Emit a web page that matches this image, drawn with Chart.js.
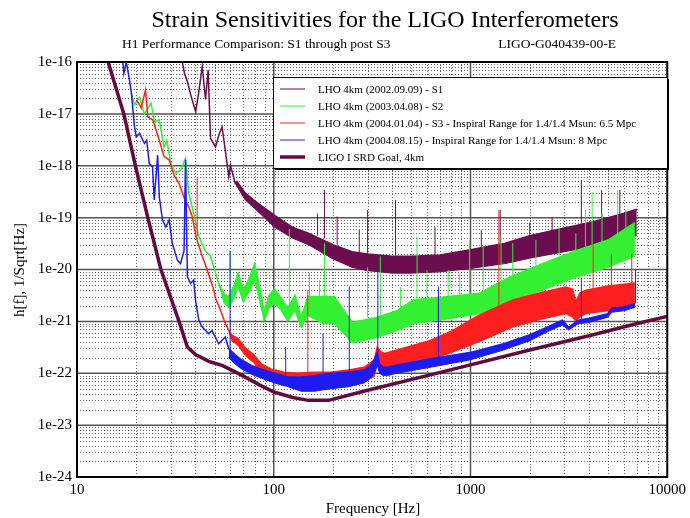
<!DOCTYPE html>
<html>
<head>
<meta charset="utf-8">
<script src="https://cdn.jsdelivr.net/npm/chart.js@4"></script>
<style>
  body { margin: 0; background: #fff; }
  #wrap { width: 690px; height: 518px; }
</style>
</head>
<body>
<div id="wrap"><canvas id="ligoChart" width="690" height="518"></canvas></div>
<script>
// legend / series
const seriesLabels = [
    'LHO 4km (2002.09.09) - S1',
    'LHO 4km (2003.04.08) - S2',
    'LHO 4km (2004.01.04) - S3 - Inspiral Range for 1.4/1.4 Msun: 6.5 Mpc',
    'LHO 4km (2004.08.15) - Inspiral Range for 1.4/1.4 Msun: 8 Mpc',
    'LIGO I SRD Goal, 4km'
];
const seriesColors = ['#6b0d4f', '#33f033', '#ff1f1f', '#1c1cf0', '#620a3e'];

const xTicks = [10, 100, 1000, 10000];
const yTicks = [1e-24, 1e-23, 1e-22, 1e-21, 1e-20, 1e-19, 1e-18, 1e-17, 1e-16];

// S1 (upper edge of the trace, lower edge of the noise band, spikes)
const s1Freq = [34.3, 35.2, 36.4, 38, 40.1, 41.5, 43.3, 45, 46.4, 47.7, 50.6, 52.9, 54.6, 56.1, 59.1, 60.2, 63.7, 65, 71.5, 80, 101, 125, 150, 200, 250, 300, 400, 500, 700, 1000, 1500, 2000, 3000, 4000, 5000, 6000, 7000];
const s1Hi = [1e-16, 6e-17, 4.2e-17, 2.2e-17, 1.1e-17, 2.5e-17, 8.1e-17, 1.9e-17, 7e-17, 3.4e-18, 2.3e-18, 4.2e-18, 5.6e-18, 2.7e-18, 6.1e-19, 1.03e-18, 4.6e-19, 5e-19, 3e-19, 2.1e-19, 1.1e-19, 6.5e-20, 5e-20, 3e-20, 2.2e-20, 2e-20, 1.8e-20, 1.8e-20, 1.9e-20, 2.4e-20, 3.2e-20, 4.5e-20, 6.3e-20, 8e-20, 1e-19, 1.2e-19, 1.45e-19];
const s1LoFreq = [63.7, 71.5, 80, 101, 125, 150, 200, 250, 300, 400, 500, 700, 1000, 1500, 2000, 3000, 4000, 5000, 6000, 7000];
const s1Lo = [4.6e-19, 2.2e-19, 1.5e-19, 6.5e-20, 4e-20, 3e-20, 1.6e-20, 1.1e-20, 9.5e-21, 8.5e-21, 8.5e-21, 9e-21, 1.05e-20, 1.3e-20, 1.65e-20, 2.2e-20, 2.7e-20, 3.3e-20, 3.9e-20, 4.5e-20];
const s1SpikeFreq = [167, 181, 210, 272, 300, 416, 660, 1135, 1415, 2000, 2600, 3660, 4640, 5740];
const s1SpikeTop = [1.2e-19, 3.4e-19, 1.05e-19, 5.8e-20, 1.4e-19, 2.2e-19, 6.6e-20, 5.8e-20, 1.4e-19, 8e-20, 1e-19, 5.3e-19, 3.4e-19, 3.4e-19];
const s1SpikeBase = [4.5e-20, 4e-20, 3e-20, 2.1e-20, 2e-20, 1.8e-20, 1.9e-20, 2.6e-20, 3e-20, 4.5e-20, 5.5e-20, 7.5e-20, 9e-20, 1.1e-19];

// S2
const s2Freq = [18.9, 19.6, 20.8, 22, 23.8, 24.7, 26.2, 27.7, 28.6, 30, 31.8, 33.6, 35.6, 37, 39.2, 41.6, 44.9, 47.7, 49.6, 52.5, 56, 59, 62.4, 66, 70, 74.4, 80, 84.6, 89.5, 94.8, 101, 109, 118, 128, 138, 149, 178, 203, 251, 336, 423, 513, 757, 1110, 1570, 2322, 3430, 5000, 6850];
const s2Hi = [2.5e-17, 1.5e-17, 2.1e-17, 1e-17, 1.6e-17, 7.1e-18, 7.6e-18, 2.3e-18, 3.1e-18, 1.1e-18, 7.1e-19, 8.3e-19, 1.4e-18, 2.9e-19, 1.2e-19, 4.3e-20, 2.3e-20, 1.8e-20, 1.1e-20, 5.4e-21, 3.4e-21, 3e-21, 4.7e-21, 8.4e-21, 4e-21, 6.3e-21, 1.3e-20, 4.7e-21, 1.6e-21, 3.2e-21, 4.2e-21, 2.8e-21, 1.8e-21, 3.2e-21, 1.2e-21, 3e-21, 3e-21, 3e-21, 9.5e-22, 1.2e-21, 1.6e-21, 2.6e-21, 3e-21, 3.5e-21, 7e-21, 1.3e-20, 2.3e-20, 3.7e-20, 8e-20];
const s2LoFreq = [52.5, 56, 59, 62.4, 66, 70, 74.4, 80, 84.6, 89.5, 94.8, 101, 109, 118, 128, 138, 149, 178, 203, 251, 336, 423, 513, 757, 1110, 1570, 2322, 3430, 5000, 6850];
const s2Lo = [5.4e-21, 2.2e-21, 1.8e-21, 2.6e-21, 4.5e-21, 2.3e-21, 3.5e-21, 6e-21, 2.5e-21, 1e-21, 1.8e-21, 2.2e-21, 1.6e-21, 1e-21, 1.6e-21, 7.5e-22, 1.3e-21, 9e-22, 9e-22, 3.8e-22, 4.9e-22, 6.6e-22, 9e-22, 1.1e-21, 1.4e-21, 2.2e-21, 4e-21, 7e-21, 1.1e-20, 1.8e-20];
const s2SpikeFreq = [60, 120, 152, 171, 181, 300, 348, 440, 535, 601, 770, 881, 990, 1160, 1430, 1640, 2150, 2820, 3430, 3840, 4150, 4660, 5600, 6160];
const s2SpikeTop = [2.3e-20, 6e-20, 8.5e-21, 6.3e-21, 3.2e-20, 1.1e-20, 1.8e-20, 4.6e-21, 4.3e-20, 9.8e-21, 9.8e-21, 8.5e-21, 3.7e-20, 2.7e-20, 4.3e-20, 3.2e-20, 3.7e-20, 6.6e-20, 5e-20, 1.4e-19, 3.1e-19, 1.2e-19, 3.4e-19, 1.4e-19];
const s2SpikeBase = [3e-21, 2e-21, 3e-21, 3e-21, 3e-21, 1.2e-21, 1.2e-21, 1.6e-21, 2.6e-21, 2.8e-21, 3e-21, 3.2e-21, 3.4e-21, 4e-21, 6e-21, 7e-21, 1.2e-20, 1.8e-20, 2.3e-20, 2.6e-20, 3e-20, 3.4e-20, 4.5e-20, 6e-20];

// S3
const s3Freq = [20, 20.8, 21.2, 22.3, 22.9, 24.3, 26.2, 27.7, 29.4, 31.1, 33, 34.9, 37, 38.5, 40.3, 43.3, 45.9, 49.6, 50.6, 53.6, 56.7, 59, 61.2, 66, 71.5, 79, 86.7, 97.6, 113, 133, 160, 194, 240, 288, 324, 336, 350, 366, 423, 624, 800, 1100, 1640, 2300, 3040, 3300, 3430, 3600, 3850, 5000, 6850];
const s3Hi = [1.85e-17, 1.5e-17, 1.3e-17, 2.9e-17, 8.8e-18, 7.6e-18, 3.1e-18, 1.5e-18, 1.3e-18, 6.6e-19, 4.6e-19, 2.5e-19, 1.6e-19, 1.05e-19, 4.3e-20, 1.8e-20, 9.8e-21, 4e-21, 2.8e-21, 1.65e-21, 9.1e-22, 6.8e-22, 5.5e-22, 4.6e-22, 3.1e-22, 2.3e-22, 1.5e-22, 1.2e-22, 1.05e-22, 1e-22, 1.05e-22, 1.05e-22, 1.15e-22, 1.3e-22, 1.8e-22, 3.2e-22, 2.6e-22, 2.4e-22, 2.8e-22, 4.3e-22, 6.5e-22, 1.3e-21, 2.6e-21, 3.6e-21, 4.6e-21, 4.2e-21, 2.4e-21, 3.5e-21, 4e-21, 4.8e-21, 5.5e-21];
const s3LoFreq = [59, 61.2, 66, 71.5, 79, 86.7, 97.6, 113, 133, 160, 194, 240, 288, 324, 336, 350, 366, 423, 624, 800, 1100, 1640, 2300, 3040, 3300, 3430, 3600, 3850, 5000, 6850];
const s3Lo = [6.8e-22, 4.2e-22, 3.4e-22, 2.2e-22, 1.6e-22, 1.05e-22, 7.5e-23, 6.2e-23, 5.5e-23, 5.3e-23, 5.1e-23, 6e-23, 7.3e-23, 8.6e-23, 1.5e-22, 1.15e-22, 1.15e-22, 1.3e-22, 1.8e-22, 2.5e-22, 4e-22, 7.7e-22, 1.1e-21, 1.4e-21, 1.2e-21, 1e-21, 1.2e-21, 1.4e-21, 1.6e-21, 1.9e-21];
const s3SpikeFreq = [40.8, 149, 687, 1394, 4200, 5200, 6600];
const s3SpikeTop = [5.8e-19, 4e-21, 3e-21, 1.4e-19, 3e-20, 2e-20, 2e-20];
const s3SpikeBase = [4.3e-20, 1e-22, 4.5e-22, 2e-21, 4e-21, 4.5e-21, 5e-21];

// post S3
const s4Freq = [17.1, 17.3, 17.8, 18.4, 18.9, 19.6, 20, 20.8, 22, 22.6, 23.3, 24.2, 24.7, 25.7, 26.2, 27.2, 28.3, 29.4, 30.5, 32.4, 33.6, 35, 35.6, 36.4, 37.8, 39.2, 40, 41.6, 43.3, 46.7, 48.5, 52.5, 56.7, 59, 63.6, 68.8, 77.4, 86.7, 101, 118, 138, 160, 194, 240, 288, 310, 324, 336, 345, 360, 378, 423, 624, 990, 1470, 1990, 2500, 2930, 3160, 3520, 4000, 4980, 5220, 6000, 6850];
const s4Hi = [1e-16, 6e-17, 1e-16, 5e-17, 2.5e-17, 5.6e-18, 3.6e-18, 4.2e-18, 2.7e-18, 3.1e-18, 1.1e-18, 9.6e-19, 2.2e-19, 1.6e-18, 2.5e-19, 9e-20, 6.6e-20, 9e-20, 3.2e-20, 1.5e-20, 1.3e-20, 2.3e-20, 1.3e-18, 7.2e-21, 5.4e-21, 6.3e-21, 2.6e-21, 1.05e-21, 7.8e-22, 5.8e-22, 6.7e-22, 3.7e-22, 5e-22, 3e-22, 2.3e-22, 1.8e-22, 1.4e-22, 1.2e-22, 1e-22, 8.5e-23, 8.5e-23, 9e-23, 1e-22, 1.05e-22, 1.15e-22, 1.4e-22, 1.8e-22, 2.6e-22, 1.5e-22, 1.3e-22, 1.3e-22, 1.45e-22, 1.9e-22, 2.5e-22, 3.7e-22, 5.5e-22, 8e-22, 1.05e-21, 7.7e-22, 1.05e-21, 1.15e-21, 1.4e-21, 1.8e-21, 1.9e-21, 2.2e-21];
const s4LoFreq = [59, 63.6, 68.8, 77.4, 86.7, 101, 118, 138, 160, 194, 240, 288, 310, 324, 336, 345, 360, 378, 423, 624, 990, 1470, 1990, 2500, 2930, 3160, 3520, 4000, 4980, 5220, 6000, 6850];
const s4Lo = [2e-22, 1.5e-22, 1.2e-22, 9.5e-23, 8e-23, 6.5e-23, 5.5e-23, 4.5e-23, 4.5e-23, 5e-23, 5.5e-23, 6.5e-23, 8e-23, 1e-22, 1.4e-22, 1e-22, 9e-23, 9e-23, 1e-22, 1.3e-22, 1.8e-22, 2.8e-22, 4.2e-22, 6.5e-22, 8.5e-22, 6.8e-22, 9e-22, 9.5e-22, 1.2e-21, 1.5e-21, 1.6e-21, 1.85e-21];
const s4SpikeFreq = [60, 115, 178, 242, 338, 687, 3660, 6900];
const s4SpikeTop = [2.3e-20, 3.2e-22, 5.9e-22, 4.7e-21, 1.1e-20, 4.7e-21, 7e-21, 9.8e-21];
const s4SpikeBase = [2.7e-22, 8.5e-23, 1e-22, 1.05e-22, 2.6e-22, 1.9e-22, 1.05e-21, 2.2e-21];

// SRD goal
const srdFreq = [14.4, 17.3, 19.8, 22.9, 26.7, 33, 36.4, 40, 46.8, 55, 69, 85, 101, 125, 150, 190, 300, 624, 1000, 2000, 4000, 6870, 10000];
const srdH = [1e-16, 1e-17, 1e-18, 1e-19, 1e-20, 1e-21, 3.2e-22, 2.3e-22, 1.7e-22, 1.4e-22, 9.1e-23, 5.9e-23, 4.3e-23, 3.4e-23, 3.0e-23, 3.0e-23, 4.7e-23, 9.3e-23, 1.45e-22, 2.8e-22, 5.3e-22, 8.9e-22, 1.25e-21];

const pts = (fs, hs) => fs.map((f, i) => ({ x: f, y: hs[i] }));
const spikes = (fs, tops, bases) => fs.flatMap((f, i) => [{ x: f, y: bases[i] }, { x: f, y: tops[i] }, { x: f, y: null }]);

const serif = '"Liberation Serif", "DejaVu Serif", serif';

const decorations = {
    id: 'decorations',
    beforeDatasetsDraw(chart) {
        const { ctx, chartArea: a, scales: { x, y } } = chart;
        ctx.save();
        const decades = [1e-24, 1e-23, 1e-22, 1e-21, 1e-20, 1e-19, 1e-18, 1e-17];
        // minor dotted lines
        ctx.strokeStyle = 'rgba(0,0,0,0.6)';
        ctx.lineWidth = 1;
        ctx.setLineDash([1, 2]);
        ctx.beginPath();
        [10, 100, 1000].forEach(d => {
            for (let m = 2; m <= 9; m++) {
                const px = Math.round(x.getPixelForValue(m * d)) + 0.5;
                ctx.moveTo(px, a.top); ctx.lineTo(px, a.bottom);
            }
        });
        decades.forEach(d => {
            for (let m = 2; m <= 9; m++) {
                const py = Math.round(y.getPixelForValue(m * d)) + 0.5;
                ctx.moveTo(a.left, py); ctx.lineTo(a.right, py);
            }
        });
        ctx.stroke();
        // major solid lines
        ctx.setLineDash([]);
        ctx.strokeStyle = '#555';
        ctx.lineWidth = 1.5;
        ctx.beginPath();
        [100, 1000].forEach(v => {
            const px = x.getPixelForValue(v);
            ctx.moveTo(px, a.top); ctx.lineTo(px, a.bottom);
        });
        yTicks.slice(1, -1).forEach(v => {
            const py = y.getPixelForValue(v);
            ctx.moveTo(a.left, py); ctx.lineTo(a.right, py);
        });
        ctx.stroke();
        ctx.restore();
    },
    afterDraw(chart) {
        const { ctx, chartArea: a } = chart;
        ctx.save();
        // frame
        ctx.strokeStyle = '#000';
        ctx.lineWidth = 2;
        ctx.strokeRect(a.left, a.top, a.right - a.left, a.bottom - a.top);

        // legend box
        const bx = 273, by = 77, bw = 394, bh = 91;
        ctx.fillStyle = '#fff';
        ctx.fillRect(bx, by, bw, bh);
        ctx.lineWidth = 1;
        ctx.strokeRect(bx + 0.5, by + 0.5, bw, bh);
        ctx.fillStyle = '#000';
        ctx.fillRect(bx + bw, by + 2, 2, bh);
        ctx.fillRect(bx + 2, by + bh, bw, 2);
        ctx.font = '11px ' + serif;
        ctx.textAlign = 'left';
        ctx.textBaseline = 'middle';
        seriesLabels.forEach((label, i) => {
            const ry = by + 12 + i * 17;
            ctx.strokeStyle = seriesColors[i];
            ctx.lineWidth = i === 4 ? 3.5 : 1;
            ctx.beginPath();
            ctx.moveTo(bx + 7, ry); ctx.lineTo(bx + 32, ry);
            ctx.stroke();
            ctx.fillStyle = '#000';
            ctx.fillText(label, bx + 45, ry + 1);
        });

        // titles
        ctx.textAlign = 'center';
        ctx.textBaseline = 'alphabetic';
        ctx.font = '24px ' + serif;
        ctx.fillText('Strain Sensitivities for the LIGO Interferometers', 385, 27);
        ctx.font = '13.5px ' + serif;
        ctx.textAlign = 'left';
        ctx.fillText('H1 Performance Comparison: S1 through post S3', 122, 48);
        ctx.textAlign = 'right';
        ctx.fillText('LIGO-G040439-00-E', 616, 48);
        ctx.textAlign = 'center';
        ctx.font = '15px ' + serif;
        ctx.fillText('Frequency [Hz]', 373, 513);
        ctx.translate(24, 270);
        ctx.rotate(-Math.PI / 2);
        ctx.fillText('h[f], 1/Sqrt[Hz]', 0, 0);
        ctx.restore();
    }
};

document.addEventListener('DOMContentLoaded', () => {
    const ctx = document.getElementById('ligoChart').getContext('2d');

    const line = (data, color, width, extra) => Object.assign({
        data, borderColor: color, backgroundColor: color, borderWidth: width,
        pointRadius: 0, tension: 0, spanGaps: false, fill: false
    }, extra || {});

    new Chart(ctx, {
        type: 'line',
        data: {
            datasets: [
                line(pts(s1Freq, s1Hi), seriesColors[0], 1.5, { label: seriesLabels[0], order: 5, fill: { target: 5, above: seriesColors[0], below: seriesColors[0] } }),
                line(pts(s2Freq, s2Hi), seriesColors[1], 1.5, { label: seriesLabels[1], order: 4, fill: { target: 6, above: seriesColors[1], below: seriesColors[1] } }),
                line(pts(s3Freq, s3Hi), seriesColors[2], 1.5, { label: seriesLabels[2], order: 3, fill: { target: 7, above: seriesColors[2], below: seriesColors[2] } }),
                line(pts(s4Freq, s4Hi), seriesColors[3], 1.5, { label: seriesLabels[3], order: 2, fill: { target: 8, above: seriesColors[3], below: seriesColors[3] } }),
                line(pts(srdFreq, srdH), seriesColors[4], 3.5, { label: seriesLabels[4], order: 0 }),
                line(pts(s1LoFreq, s1Lo), seriesColors[0], 1, { order: 5 }),
                line(pts(s2LoFreq, s2Lo), seriesColors[1], 1, { order: 4 }),
                line(pts(s3LoFreq, s3Lo), seriesColors[2], 1, { order: 3 }),
                line(pts(s4LoFreq, s4Lo), seriesColors[3], 1, { order: 2 }),
                line(spikes(s1SpikeFreq, s1SpikeTop, s1SpikeBase), seriesColors[0], 1, { order: 5 }),
                line(spikes(s2SpikeFreq, s2SpikeTop, s2SpikeBase), seriesColors[1], 1, { order: 4 }),
                line(spikes(s3SpikeFreq, s3SpikeTop, s3SpikeBase), seriesColors[2], 1, { order: 3 }),
                line(spikes(s4SpikeFreq, s4SpikeTop, s4SpikeBase), seriesColors[3], 1, { order: 2 })
            ]
        },
        options: {
            responsive: false,
            animation: false,
            layout: { padding: { top: 62, right: 20, left: 0, bottom: 0 } },
            plugins: { legend: { display: false }, tooltip: { enabled: false } },
            scales: {
                x: {
                    type: 'logarithmic',
                    min: 10,
                    max: 10000,
                    afterBuildTicks: s => { s.ticks = xTicks.map(v => ({ value: v })); },
                    afterFit: s => { s.height = 41; },
                    ticks: { callback: v => String(v), color: '#000', font: { family: serif, size: 15 }, padding: 4, maxRotation: 0, autoSkip: false },
                    grid: { display: false, drawTicks: false },
                    border: { display: false }
                },
                y: {
                    type: 'logarithmic',
                    min: 1e-24,
                    max: 1e-16,
                    afterBuildTicks: s => { s.ticks = yTicks.map(v => ({ value: v })); },
                    afterFit: s => { s.width = 77; },
                    ticks: { callback: v => Number(v).toExponential(), color: '#000', font: { family: serif, size: 15 }, padding: 5, autoSkip: false },
                    grid: { display: false, drawTicks: false },
                    border: { display: false }
                }
            }
        },
        plugins: [decorations]
    });
});
</script>
</body>
</html>
